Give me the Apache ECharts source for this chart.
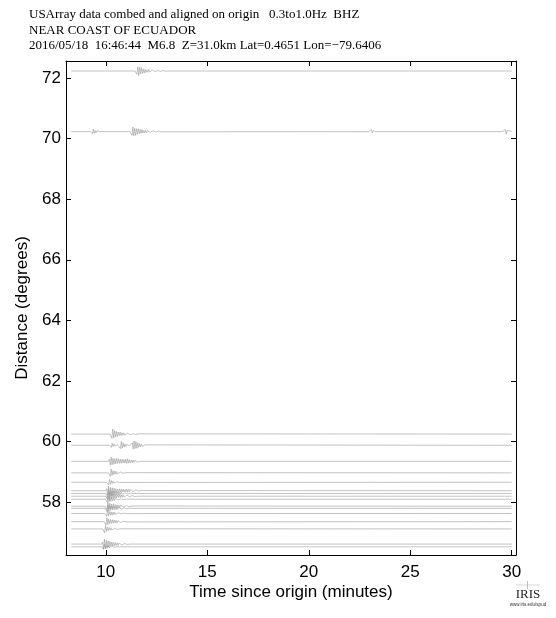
<!DOCTYPE html>
<html><head><meta charset="utf-8">
<script src="https://cdn.jsdelivr.net/npm/echarts@6/dist/echarts.min.js"></script>
<style>html,body{margin:0;padding:0;background:#fff}#c{width:556px;height:618px}</style>
</head><body><div id="c"></div>
<script>
// ---- data ----
const titleLines = [
  "USArray data combed and aligned on origin   0.3to1.0Hz  BHZ",
  "NEAR COAST OF ECUADOR",
  "2016/05/18  16:46:44  M6.8  Z=31.0km Lat=0.4651 Lon=\u221279.6406"
];
const xTicks = [10, 15, 20, 25, 30];
const yTicks = [58, 60, 62, 64, 66, 68, 70, 72];
const traceStart = 8.3, traceEnd = 30.0;   // minutes
const sampleStep = 0.045;                  // minutes between amplitude samples
const traceGain = 0.14;                    // degrees per unit amplitude
const traceDistances = [72.23, 70.23, 60.25, 59.88, 59.35, 58.97, 58.66, 58.38, 58.29, 58.20, 58.10, 57.87, 57.80, 57.63, 57.36, 57.12, 56.62, 56.53];
// bursts per trace: [onset minute, amplitude samples]
const traceBursts = [
  [[11.44, [0.3,-0.8,1.0,-1.1,0.9,-0.7,0.8,-0.6,0.5,-0.5,0.4,-0.35,0.3,-0.3,0.35,-0.25,0.2,-0.2,0.25,-0.15,0.2,-0.15,0.1,-0.15,0.1,-0.1,0.12,-0.08,0.06,-0.1,0.1,-0.08,0.1,-0.06,0.05,0]]],
  [[9.25, [0.2,-0.5,0.6,-0.4,0.3,-0.3,0.2,-0.1,0.1,0]],
   [11.2, [0.4,-0.9,1.1,-1.0,0.8,-0.9,0.7,-0.6,0.7,-0.5,0.5,-0.4,0.5,-0.35,0.3,-0.3,0.35,-0.25,0.25,-0.2,0.2,-0.2,0.15,-0.15,0.2,-0.1,0.1,-0.1,0.08,-0.1,0.12,-0.1,0.08,-0.05,0]],
   [22.95, [0.2,-0.4,0.5,-0.3,0.25,-0.2,0.1,0]],
   [29.55, [0.2,-0.3,0.5,-0.6,0.3,0]]],
  [[10.21, [0.4,-1.0,1.2,-0.9,0.8,-0.7,0.6,-0.6,0.5,-0.4,0.45,-0.35,0.3,-0.3,0.3,-0.25,0.2,-0.2,0.2,-0.15,0.15,-0.15,0.12,-0.1,0.1,-0.1,0.08,-0.08,0.1,-0.06,0.05,0]]],
  [[10.18, [0.2,-0.5,0.5,-0.3,0.3,-0.2,0.2,-0.2,0.15,-0.1,0.5,-0.8,0.9,-0.7,0.6,-0.4,0.3,-0.3,0.2,-0.2,0.15,-0.15,0.2,-0.3,0.6,-0.9,1.0,-0.8,0.9,-0.7,0.6,-0.5,0.4,-0.4,0.3,-0.25,0.2,-0.15,0.1,0]]],
  [[10.13, [0.5,-0.9,1.0,-0.8,0.7,-0.7,0.6,-0.6,0.7,-0.5,0.6,-0.5,0.5,-0.45,0.5,-0.4,0.45,-0.4,0.5,-0.5,0.6,-0.4,0.4,-0.35,0.3,-0.3,0.3,-0.25,0.25,-0.2,0.2,-0.2,0.15,-0.1,0]]],
  [[10.13, [0.3,-0.8,0.9,-0.6,0.5,-0.4,0.4,-0.3,0.3,-0.25,0.2,-0.2,0.2,-0.15,0.15,-0.1,0.1,-0.1,0.05,0]]],
  [[10.05, [0.3,-0.6,0.7,-0.5,0.4,-0.3,0.3,-0.2,0.2,-0.15,0.1,-0.1,0.1,-0.05,0]]],
  [[10.0, [0.5,-1.0,1.1,-0.9,0.8,-0.8,0.7,-0.6,0.6,-0.5,0.5,-0.5,0.4,-0.4,0.45,-0.35,0.4,-0.3,0.35,-0.3,0.3,-0.3,0.4,-0.35,0.3,-0.25,0.25,-0.2,0.3,-0.2,0.2,-0.15,0.2,-0.15,0.1,-0.1,0.1,-0.05,0.05,0]]],
  [[10.0, [0.4,-0.9,1.0,-0.8,0.7,-0.6,0.6,-0.5,0.5,-0.4,0.4,-0.35,0.3,-0.3,0.3,-0.25,0.3,-0.2,0.2,-0.2,0.15,-0.15,0.15,-0.1,0.1,-0.1,0.08,-0.05,0.05,0]]],
  [[10.0, [0.3,-0.8,0.9,-0.9,0.7,-0.6,0.7,-0.5,0.5,-0.45,0.4,-0.4,0.35,-0.3,0.4,-0.3,0.3,-0.25,0.3,-0.25,0.2,-0.2,0.25,-0.2,0.2,-0.15,0.15,-0.1,0.15,-0.1,0.1,-0.1,0.05,-0.05,0]]],
  [[9.98, [0.3,-0.7,0.8,-0.6,0.5,-0.5,0.4,-0.35,0.3,-0.3,0.25,-0.2,0.2,-0.2,0.15,-0.15,0.1,-0.1,0.1,-0.1,0.08,-0.05,0.05,-0.03,0]]],
  [[9.97, [0.4,-0.9,1.0,-0.7,0.7,-0.6,0.5,-0.5,0.6,-0.4,0.4,-0.4,0.35,-0.3,0.3,-0.3,0.25,-0.2,0.2,-0.2,0.15,-0.15,0.15,-0.1,0.1,-0.1,0.1,-0.05,0.05,0]]],
  [[9.97, [0.3,-0.8,0.8,-0.7,0.6,-0.5,0.5,-0.4,0.4,-0.35,0.3,-0.3,0.3,-0.25,0.25,-0.2,0.2,-0.2,0.15,-0.15,0.12,-0.1,0.1,-0.1,0.08,-0.06,0.05,-0.03,0.02,0]]],
  [[9.95, [0.3,-0.7,0.8,-0.6,0.5,-0.4,0.4,-0.4,0.3,-0.3,0.3,-0.2,0.2,-0.2,0.15,-0.15,0.1,-0.1,0.1,-0.08,0.06,-0.05,0.04,-0.02,0]]],
  [[9.92, [0.3,-0.8,0.9,-0.7,0.6,-0.5,0.5,-0.4,0.45,-0.35,0.4,-0.3,0.3,-0.3,0.25,-0.2,0.2,-0.2,0.15,-0.12,0.1,-0.1,0.08,-0.05,0]]],
  [[9.85, [0.4,-0.9,0.8,-0.6,0.5,-0.4,0.35,-0.3,0.3,-0.25,0.2,-0.2,0.15,-0.15,0.1,-0.1,0.08,-0.05,0.03,0]]],
  [[9.8, [0.5,-1.1,1.2,-1.0,0.9,-0.8,0.7,-0.7,0.6,-0.5,0.5,-0.45,0.4,-0.4,0.35,-0.3,0.3,-0.3,0.25,-0.2,0.2,-0.2,0.15,-0.15,0.12,-0.1,0.1,-0.08,0.05,0]]],
  [[9.8, [0.3,-0.6,0.6,-0.5,0.4,-0.35,0.3,-0.25,0.2,-0.2,0.15,-0.12,0.1,-0.1,0.08,-0.05,0.04,-0.03,0.02,0]]]
];

// ---- build series ----
const series = traceDistances.map((d, k) => {
  const pts = [[traceStart, d]];
  traceBursts[k].forEach(([t0, amps]) => {
    pts.push([t0, d]);
    amps.forEach((a, i) => pts.push([t0 + (i + 1) * sampleStep, d + traceGain * a]));
    pts.push([t0 + (amps.length + 1) * sampleStep, d]);
  });
  pts.push([traceEnd, d]);
  return {
    type: 'line', data: pts, showSymbol: false, symbol: 'none', silent: true,
    lineStyle: { color: '#9a9a9a', width: 0.6 }, animation: false
  };
});

const chart = echarts.init(document.getElementById('c'), null, { renderer: 'canvas' });
const sans = 'Liberation Sans, Arial, Helvetica, sans-serif';
const serif = 'Liberation Serif, Times New Roman, serif';
const axisCommon = {
  type: 'value',
  axisLine: { show: true, onZero: false, lineStyle: { color: '#000', width: 1 } },
  axisTick: { show: true, inside: true, length: 5, lineStyle: { color: '#000', width: 1 } },
  splitLine: { show: false }
};
chart.setOption({
  animation: false,
  backgroundColor: '#fff',
  grid: { left: 66, top: 61, width: 450, height: 494, containLabel: false },
  xAxis: [
    Object.assign({}, axisCommon, {
      position: 'bottom', min: 8.04, max: 30.21,
      axisTick: Object.assign({}, axisCommon.axisTick, { customValues: xTicks }),
      axisLabel: { customValues: xTicks, color: '#000', fontSize: 17, fontFamily: sans, margin: 9 }
    }),
    Object.assign({}, axisCommon, {
      position: 'top', min: 8.04, max: 30.21,
      axisTick: Object.assign({}, axisCommon.axisTick, { customValues: xTicks }),
      axisLabel: { show: false }
    })
  ],
  yAxis: [
    Object.assign({}, axisCommon, {
      position: 'left', min: 56.26, max: 72.56,
      axisTick: Object.assign({}, axisCommon.axisTick, { customValues: yTicks }),
      axisLabel: { customValues: yTicks, color: '#000', fontSize: 17, fontFamily: sans, margin: 5 }
    }),
    Object.assign({}, axisCommon, {
      position: 'right', min: 56.26, max: 72.56,
      axisTick: Object.assign({}, axisCommon.axisTick, { customValues: yTicks }),
      axisLabel: { show: false }
    })
  ],
  series: series,
  graphic: [
    { type: 'text', left: 29, top: 8, style: { text: titleLines[0], font: '13px ' + serif, fill: '#000' } },
    { type: 'text', left: 29, top: 24, style: { text: titleLines[1], font: '13px ' + serif, fill: '#000' } },
    { type: 'text', left: 29, top: 39.5, style: { text: titleLines[2], font: '13px ' + serif, fill: '#000' } },
    { type: 'text', x: 291, y: 592, style: { text: 'Time since origin (minutes)', font: '17px ' + sans, fill: '#000', align: 'center', verticalAlign: 'middle' } },
    { type: 'text', x: 22, y: 308, rotation: Math.PI / 2, style: { text: 'Distance (degrees)', font: '17px ' + sans, fill: '#000', align: 'center', verticalAlign: 'middle' } },
    { type: 'line', shape: { x1: 516, y1: 585, x2: 540, y2: 585 }, style: { stroke: '#bbb', lineWidth: 0.6 } },
    { type: 'line', shape: { x1: 527.5, y1: 581, x2: 527.5, y2: 589 }, style: { stroke: '#999', lineWidth: 0.6 } },
    { type: 'text', x: 528, y: 595, style: { text: 'IRIS', font: '13px ' + serif, fill: '#222', align: 'center', verticalAlign: 'middle' } },
    { type: 'text', x: 528, y: 605, style: { text: 'www.iris.edu/spud', font: '4.5px ' + sans, fill: '#333', align: 'center', verticalAlign: 'middle' } }
  ]
});
</script></body></html>
